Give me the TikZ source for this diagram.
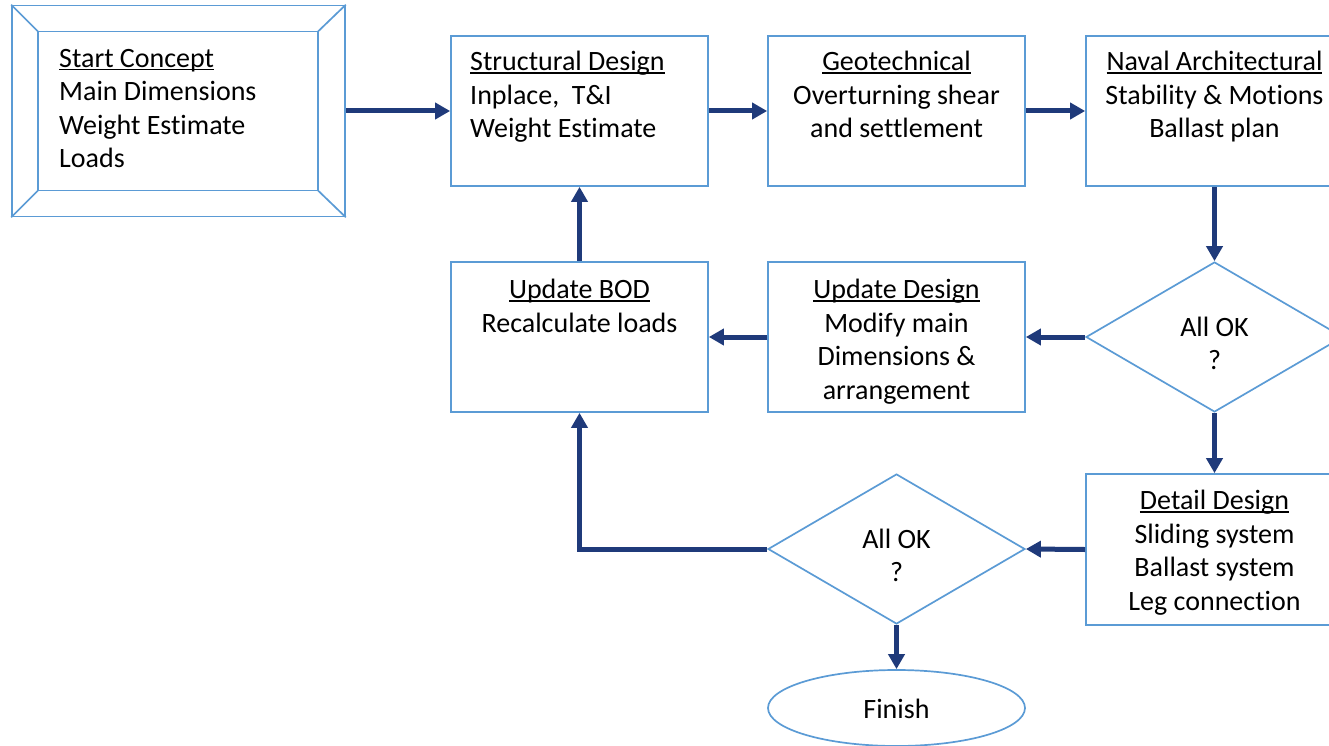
\documentclass[tikz,border=0pt]{standalone}
\usepackage{fontspec}
\setmainfont[Ligatures=NoCommon]{Carlito}
\usetikzlibrary{shapes.geometric,arrows.meta}
\definecolor{boxline}{RGB}{91,155,213}
\definecolor{flow}{RGB}{31,58,122}
% underlined heading with a fixed underline position
\newsavebox\ttlbox
\newcommand\ttl[1]{\rule{0pt}{20pt}\sbox\ttlbox{#1}\rlap{\rule[-3pt]{\wd\ttlbox}{1.4pt}}\usebox\ttlbox}
\newcommand\fst{\rule{0pt}{20pt}}
\tikzset{
  box/.style={draw=boxline, line width=1.7pt, fill=white, minimum width=257pt,
    minimum height=150pt, inner sep=0pt},
  decision/.style={box, diamond},
  terminal/.style={box, ellipse, minimum height=76pt},
  txt/.style={font=\fontsize{28}{33.5}\selectfont, inner sep=0pt, anchor=north, align=center},
  txtl/.style={txt, anchor=north west, align=left},
  flowarrow/.style={draw=flow, line width=5pt, -{Triangle[length=15pt,width=16pt]}},
}
\begin{document}
\begin{tikzpicture}[x=1pt, y=-1pt]
\useasboundingbox (0,0) rectangle (1329,746);
\clip (0,0) rectangle (1329,746);

% start block with bevelled frame
\node[box, minimum width=333pt, minimum height=211pt] (start) at (178.5,111) {};
\draw[boxline, line width=1.7pt] (38,31.5) rectangle (318,190.5);
\draw[boxline, line width=1.7pt]
  (start.north west) -- (38,31.5)  (start.north east) -- (318,31.5)
  (start.south west) -- (38,190.5) (start.south east) -- (318,190.5);
\node[txtl] (start-t) at (59,47)
  {\ttl{Start Concept}\\Main Dimensions\\Weight Estimate\\Loads};

% process boxes
\node[box] (sd)  at (579.5,111) {};
\node[box] (geo) at (896.5,111) {};
\node[box] (nav) at (1214.5,111) {};
\node[box] (bod) at (579.5,337) {};
\node[box] (upd) at (896.5,337) {};
\node[box, minimum height=151pt] (det) at (1214.5,549.5) {};
\node[decision] (ok1) at (1214.5,337) {};
\node[decision] (ok2) at (896.5,549) {};
\node[terminal] (fin) at (896.5,708) {};

\node[txtl] (sd-t)  at (470,50.5) {\ttl{Structural Design}\\Inplace,\ \ T\&I\\Weight Estimate};
\node[txt]  (geo-t) at (896.5,50.5) {\ttl{Geotechnical}\\Overturning shear\\and settlement};
\node[txt]  (nav-t) at (1214.5,50.5) {\ttl{Naval Architectural}\\Stability \& Motions\\Ballast plan};
\node[txt]  (bod-t) at (579.5,278.5) {\ttl{Update BOD}\\Recalculate loads};
\node[txt]  (upd-t) at (896.5,278.5) {\ttl{Update Design}\\Modify main\\Dimensions \&\\arrangement};
\node[txt]  (det-t) at (1214.5,489.5) {\ttl{Detail Design}\\Sliding system\\Ballast system\\Leg connection};
\node[txt]  (ok1-t) at (1214.5,316) {\fst All OK\\?};
\node[txt]  (ok2-t) at (896.5,528) {\fst All OK\\?};
\node[txt, anchor=base] (fin-t) at (896.5,718) {Finish};

% flow connectors
\draw[flowarrow] (start.east) -- (sd.west);
\draw[flowarrow] (sd.east) -- (geo.west);
\draw[flowarrow] (geo.east) -- (nav.west);
\draw[flowarrow] (nav.south) -- (ok1.north);
\draw[flowarrow] (ok1.west) -- (upd.east);
\draw[flowarrow] (upd.west) -- (bod.east);
\draw[flowarrow] (bod.north) -- (sd.south);
\draw[flowarrow] (ok1.south) -- (det.north);
\draw[flowarrow] (det.west) -- (ok2.east);
\draw[flowarrow] (ok2.west) -| (bod.south);
\draw[flowarrow] (ok2.south) -- (fin.north);
\end{tikzpicture}
\end{document}
